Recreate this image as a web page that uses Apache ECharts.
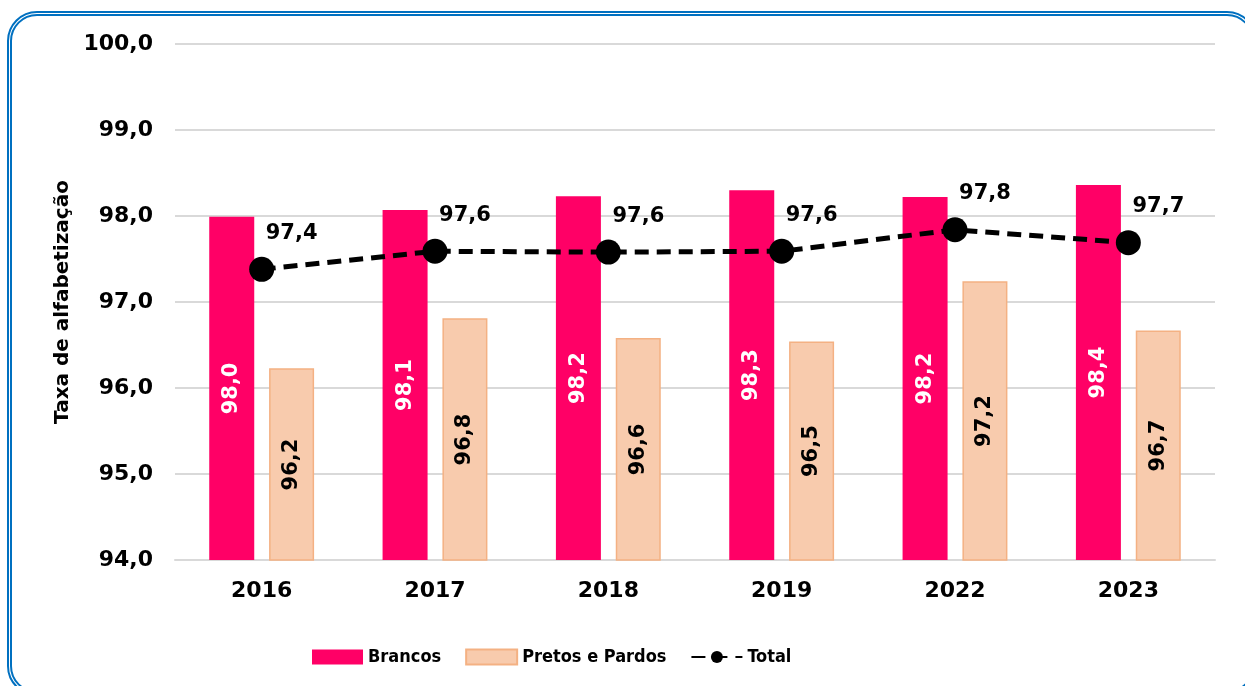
<!DOCTYPE html>
<html lang="pt">
  <head>
    <meta charset="UTF-8" />
    <title>Taxa de alfabetização</title>
    <script src="https://cdn.jsdelivr.net/npm/echarts@6/dist/echarts.min.js"></script>
    <style>
      html, body { margin: 0; padding: 0; background: #fff; overflow: hidden; }
      #frame {
        position: absolute; left: 7px; top: 11px; width: 1250px; height: 685px;
        box-sizing: border-box; border: 5px double #0070c0; border-radius: 30px;
      }
      #main { position: absolute; left: 0; top: 0; width: 1245px; height: 686px; }
    </style>
  </head>
  <body>
    <div id="frame"></div>
    <div id="main"></div>
    <script type="text/javascript">
      // dados
      const anos = ["2016", "2017", "2018", "2019", "2022", "2023"];
      const brancos = [97.99, 98.07, 98.23, 98.3, 98.22, 98.36];
      const pretosPardos = [96.23, 96.81, 96.58, 96.54, 97.24, 96.67];
      const total = [97.38, 97.59, 97.58, 97.59, 97.84, 97.69];

      const fonte = "DejaVu Sans";
      const fmt = (v) => v.toFixed(1).replace(".", ",");

      const myChart = echarts.init(document.getElementById("main"));
      const option = {
        backgroundColor: "transparent",
        animation: false,
        grid: { left: 175, right: 30, top: 44, bottom: 126 },
        legend: {
          left: 307,
          top: 643,
          itemWidth: 51,
          itemHeight: 15,
          itemGap: 24,
          textStyle: {
            fontFamily: "DejaVu Sans Condensed, Liberation Sans",
            fontWeight: "bold",
            fontSize: 18,
            color: "#000",
          },
          data: [
            { name: "Brancos", icon: "rect" },
            { name: "Pretos e Pardos", icon: "rect" },
            { name: "Total" },
          ],
        },
        xAxis: {
          type: "category",
          data: anos,
          axisTick: { show: false },
          axisLine: { lineStyle: { color: "#d9d9d9", width: 2 } },
          axisLabel: {
            margin: 20,
            color: "#000",
            fontFamily: fonte,
            fontWeight: "bold",
            fontSize: 22,
          },
        },
        yAxis: {
          type: "value",
          min: 94,
          max: 100,
          interval: 1,
          name: "Taxa de alfabetização",
          nameLocation: "middle",
          nameGap: 101,
          nameTextStyle: {
            color: "#000",
            fontFamily: fonte,
            fontWeight: "bold",
            fontSize: 20,
          },
          axisLine: { show: false },
          axisTick: { show: false },
          splitLine: { lineStyle: { color: "#d9d9d9", width: 2 } },
          axisLabel: {
            margin: 22,
            color: "#000",
            fontFamily: fonte,
            fontWeight: "bold",
            fontSize: 22,
            formatter: (v) => fmt(v),
          },
        },
        series: [
          {
            name: "Brancos",
            type: "bar",
            data: brancos,
            barWidth: 45,
            barGap: "33%",
            itemStyle: { color: "#ff0066" },
            label: {
              show: true,
              position: "inside",
              rotate: 90,
              color: "#fff",
              fontFamily: fonte,
              fontWeight: "bold",
              fontSize: 21,
              formatter: (p) => fmt(p.value),
            },
          },
          {
            name: "Pretos e Pardos",
            type: "bar",
            data: pretosPardos,
            barWidth: 45,
            itemStyle: { color: "#f8cbad", borderColor: "#f4b183", borderWidth: 1.5 },
            label: {
              show: true,
              position: "inside",
              rotate: 90,
              color: "#000",
              fontFamily: fonte,
              fontWeight: "bold",
              fontSize: 21,
              formatter: (p) => fmt(p.value),
            },
          },
          {
            name: "Total",
            type: "line",
            data: total,
            z: 5,
            symbol: "circle",
            symbolSize: 25,
            itemStyle: { color: "#000" },
            lineStyle: { color: "#000", width: 5, type: [14, 8] },
            label: {
              show: true,
              position: "top",
              distance: 5,
              offset: [30, -8],
              color: "#000",
              fontFamily: fonte,
              fontWeight: "bold",
              fontSize: 21,
              formatter: (p) => fmt(p.value),
            },
          },
        ],
      };
      myChart.setOption(option);
    </script>
  </body>
</html>
